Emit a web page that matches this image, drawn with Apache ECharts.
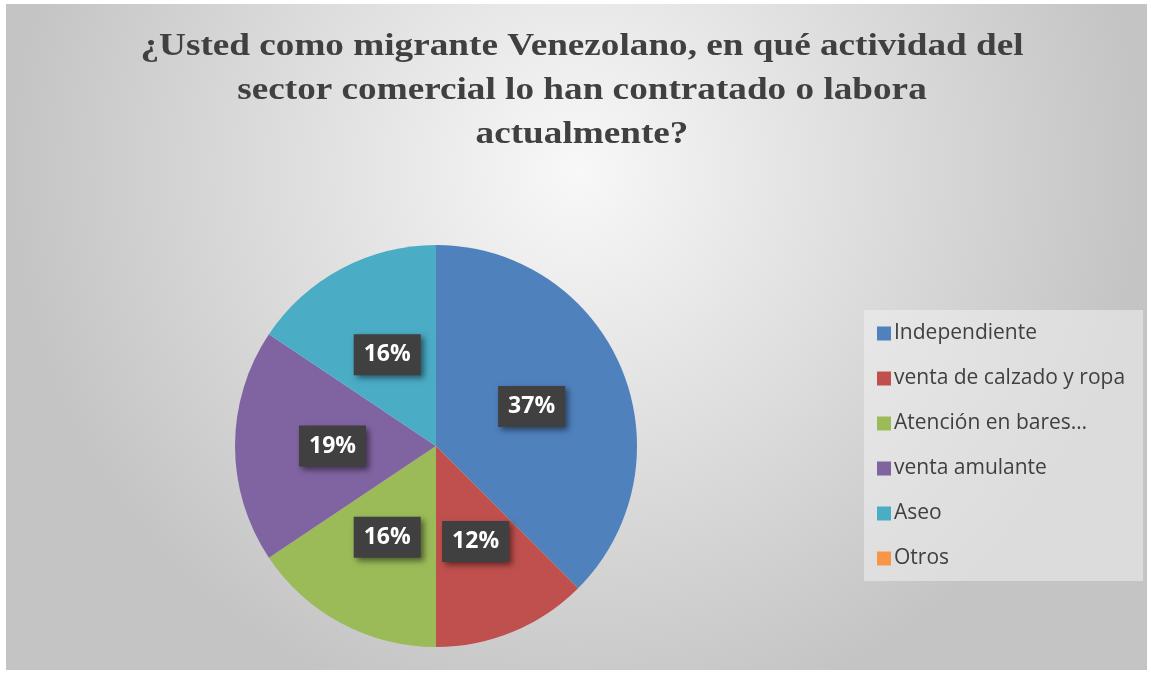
<!DOCTYPE html>
<html>
<head>
<meta charset="utf-8">
<script src="https://cdn.jsdelivr.net/npm/echarts@6/dist/echarts.min.js"></script>
<style>
html,body{margin:0;padding:0;background:#ffffff;width:1151px;height:674px;overflow:hidden;}
#chart{position:absolute;left:6px;top:4px;width:1141px;height:666px;}
</style>
</head>
<body>
<div id="chart"></div>
<script>
const titleText = '¿Usted como migrante Venezolano, en qué actividad del\nsector comercial lo han contratado o labora\nactualmente?';
const categories = ['Independiente', 'venta de calzado y ropa', 'Atención en bares…', 'venta amulante', 'Aseo', 'Otros'];
const values = [12, 4, 5, 6, 5, 0];
const colors = ['#4f81bd', '#c0504d', '#9bbb59', '#8064a2', '#4bacc6', '#f79646'];

const chart = echarts.init(document.getElementById('chart'), null, {renderer: 'canvas'});
chart.setOption({
  backgroundColor: {
    type: 'radial', x: 0.5, y: 0.25, r: 0.85,
    colorStops: [{offset: 0, color: '#f8f8f8'}, {offset: 1, color: '#c4c4c4'}]
  },
  color: colors,
  graphic: [{
    type: 'text',
    x: 576, y: 21,
    scaleX: 1.2, scaleY: 1,
    style: {
      text: titleText,
      align: 'center', verticalAlign: 'top',
      font: 'bold 31px "Liberation Serif", "Times New Roman", serif',
      fill: '#404040',
      lineHeight: 44
    }
  }],
  legend: {
    orient: 'vertical',
    left: 858, top: 306,
    padding: [13, 18, 12, 13],
    backgroundColor: 'rgba(240,240,240,0.55)',
    itemWidth: 14, itemHeight: 14, itemGap: 24,
    icon: 'rect',
    textStyle: {fontFamily: 'Open Sans', fontSize: 21, color: '#404040', padding: [0, 0, 0, -2]},
    data: categories
  },
  series: [{
    type: 'pie',
    center: [430, 442],
    radius: [0, 201],
    startAngle: 90,
    clockwise: true,
    silent: true,
    avoidLabelOverlap: false,
    percentPrecision: 0,
    itemStyle: {borderWidth: 0},
    labelLayout: {hideOverlap: false},
    label: {
      show: true,
      position: 'inside',
      formatter: '{d}%',
      fontFamily: 'Open Sans', fontWeight: 'bold', fontSize: 23, color: '#ffffff',
      backgroundColor: '#404040',
      padding: [10, 10, 8, 10],
      shadowColor: 'rgba(0,0,0,0.5)', shadowBlur: 6, shadowOffsetX: 3, shadowOffsetY: 3
    },
    labelLine: {show: false},
    data: categories.map((c, i) => ({
      name: c, value: values[i],
      label: values[i] === 0 ? {show: false} : undefined
    }))
  }]
});
</script>
</body>
</html>
